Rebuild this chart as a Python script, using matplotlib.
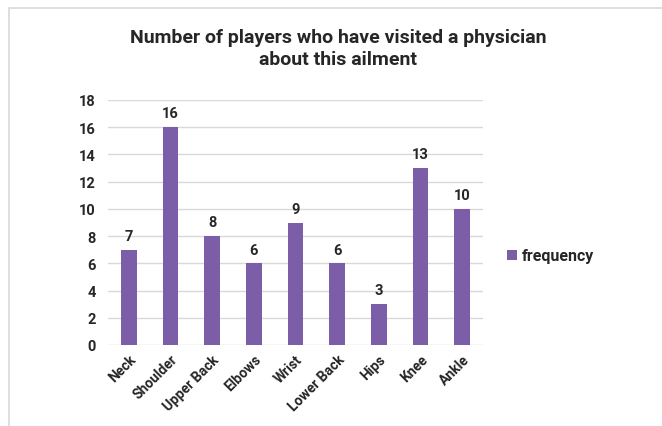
import matplotlib.pyplot as plt
from matplotlib.patches import Rectangle

plt.rcParams['font.family'] = ['Roboto', 'DejaVu Sans']

ailments = ["Neck", "Shoulder", "Upper Back", "Elbows", "Wrist",
            "Lower Back", "Hips", "Knee", "Ankle"]
frequency = [7, 16, 8, 6, 9, 6, 3, 13, 10]
yticks = [0, 2, 4, 6, 8, 10, 12, 14, 16, 18]

bar_color = "#7B5EA7"
text_color = "#262626"
weight = "bold"

W, H = 662, 427
fig = plt.figure(figsize=(W / 100, H / 100), dpi=100)

# outer frame, cropped at the right and bottom
fig.patches.append(Rectangle((9 / W, -0.1), 1.2, 1 - 9 / H + 0.1,
                             transform=fig.transFigure, fill=False,
                             edgecolor="#d9d9d9", lw=1.2))

ax = fig.add_axes([108 / W, 1 - 346 / H, (483 - 108) / W, (346 - 101) / H])
x = range(len(ailments))
bars = ax.bar(x, frequency, width=0.38, color=bar_color, zorder=3,
              label="frequency")

for xi, v in zip(x, frequency):
    ax.text(xi, v + 0.5, str(v), ha="center", va="bottom",
            fontsize=10.5, fontweight=weight, color=text_color)

ax.set_xlim(-0.5, len(ailments) - 0.5)
ax.set_ylim(0, 18)
ax.set_yticks(yticks)
ax.set_yticklabels([str(t) for t in yticks], fontsize=10.5,
                   fontweight=weight, color=text_color)
ax.set_xticks(list(x))
ax.set_xticklabels(ailments, rotation=45, ha="right", rotation_mode="anchor",
                   fontsize=10, fontweight=weight, color=text_color)
ax.tick_params(length=0, pad=5)
ax.tick_params(axis="y", pad=9)
ax.grid(axis="y", color="#d9d9d9", lw=1, zorder=0)
for s in ax.spines.values():
    s.set_visible(False)

fig.text(338 / W, 1 - 49 / H, "Number of players who have visited a physician\nabout this ailment",
         ha="center", va="center", fontsize=14, fontweight=weight,
         color=text_color, linespacing=1.3)

fig.legend(handles=[bars], labels=["frequency"], loc="center left",
           bbox_to_anchor=(493 / W, 1 - 257 / H), frameon=False,
           handlelength=0.6, handleheight=0.6, handletextpad=0.3,
           prop={"size": 11.5, "weight": weight}, labelcolor=text_color)

fig.savefig("out.png", dpi=100)
